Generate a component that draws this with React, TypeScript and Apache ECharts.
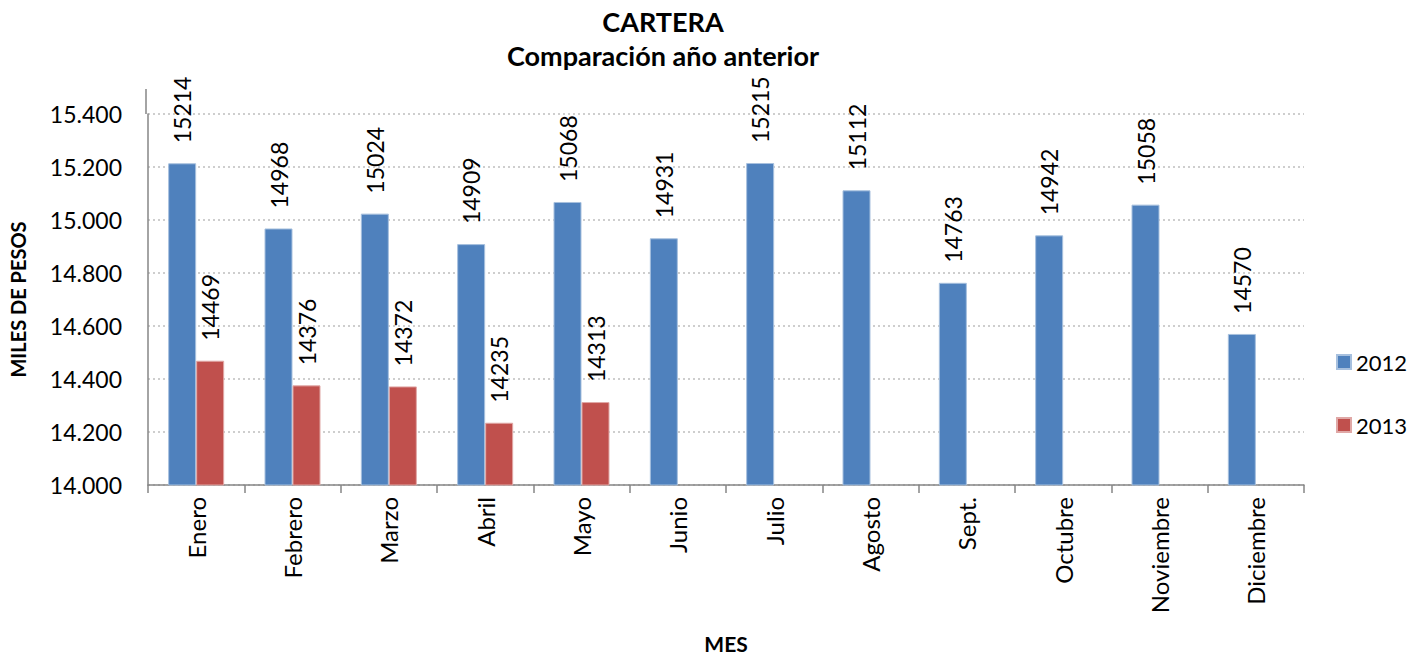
import React, { useEffect, useRef } from "react";
import * as echarts from "echarts";

const months = ["Enero", "Febrero", "Marzo", "Abril", "Mayo", "Junio", "Julio", "Agosto", "Sept.", "Octubre", "Noviembre", "Diciembre"];
const values2012 = [15214, 14968, 15024, 14909, 15068, 14931, 15215, 15112, 14763, 14942, 15058, 14570];
const values2013 = [14469, 14376, 14372, 14235, 14313, null, null, null, null, null, null, null];
const seriesNames = ["2012", "2013"];
const titleLines = ["CARTERA", "Comparación año anterior"];
const yAxisName = "MILES DE PESOS";
const xAxisName = "MES";

const FONT = "Lato, 'Open Sans', sans-serif";

export default function App() {
  const ref = useRef<HTMLDivElement>(null);
  useEffect(() => {
    if (!ref.current) return;
    const chart = echarts.init(ref.current, undefined, { renderer: "svg" });
    const labelCfg = {
      show: true,
      position: "top",
      rotate: 90,
      align: "left",
      verticalAlign: "middle",
      distance: 20,
      fontFamily: FONT,
      fontSize: 23,
      color: "#000",
    };
    chart.setOption({
      animation: false,
      textStyle: { fontFamily: FONT },
      graphic: [
        {
          type: "text",
          x: 663,
          y: 8,
          style: {
            text: titleLines[0],
            textAlign: "center",
            fontFamily: FONT,
            fontWeight: "bold",
            fontSize: 27,
            fill: "#000",
          },
        },
        {
          type: "text",
          x: 663,
          y: 42,
          style: {
            text: titleLines[1],
            textAlign: "center",
            fontFamily: FONT,
            fontWeight: "bold",
            fontSize: 27,
            fill: "#000",
          },
        },
        {
          type: "line",
          shape: { x1: 146, y1: 89, x2: 146, y2: 114 },
          style: { stroke: "#868686", lineWidth: 1.5 },
        },
      ],
      legend: {
        orient: "vertical",
        left: 1331,
        top: 346,
        itemWidth: 14,
        itemHeight: 14,
        itemGap: 41,
        icon: "rect",
        textStyle: { fontFamily: FONT, fontSize: 22, color: "#000" },
        data: seriesNames,
      },
      grid: { left: 146, right: 108, top: 114, bottom: 171, containLabel: false },
      xAxis: {
        type: "category",
        data: months,
        name: xAxisName,
        nameLocation: "middle",
        nameGap: 148,
        nameTextStyle: { fontFamily: FONT, fontWeight: "bold", fontSize: 21, color: "#000" },
        axisLine: { lineStyle: { color: "#868686", width: 1.5 } },
        axisTick: { show: true, length: 8, lineStyle: { color: "#868686", width: 1.5 } },
        axisLabel: {
          rotate: 90,
          margin: 12,
          fontFamily: FONT,
          fontSize: 24,
          color: "#000",
          interval: 0,
        },
      },
      yAxis: {
        type: "value",
        min: 14000,
        max: 15400,
        interval: 200,
        name: yAxisName,
        nameLocation: "middle",
        nameGap: 120,
        nameRotate: 90,
        nameTextStyle: { fontFamily: FONT, fontWeight: "bold", fontSize: 20, color: "#000" },
        axisLine: { show: true, lineStyle: { color: "#868686", width: 1.5 } },
        axisTick: { show: false },
        axisLabel: {
          margin: 26,
          fontFamily: FONT,
          fontSize: 23,
          color: "#000",
          formatter: (v: number) => (v / 1000).toFixed(3),
        },
        splitLine: { show: true, lineStyle: { color: "#BFBFBF", type: [2, 3], width: 1.5 } },
      },
      series: [
        {
          name: seriesNames[0],
          type: "bar",
          data: values2012,
          barWidth: 28,
          barGap: "0%",
          itemStyle: { color: "#4F81BD", borderColor: "#A7C0DE", borderWidth: 1 },
          label: labelCfg,
        },
        {
          name: seriesNames[1],
          type: "bar",
          data: values2013,
          barWidth: 28,
          barGap: "0%",
          itemStyle: { color: "#C0504D", borderColor: "#E0A8A6", borderWidth: 1 },
          label: labelCfg,
        },
      ],
    });
    return () => chart.dispose();
  }, []);
  return (
    <div
      ref={ref}
      style={{ position: "absolute", left: 0, top: 0, width: 1412, height: 659 }}
    />
  );
}
